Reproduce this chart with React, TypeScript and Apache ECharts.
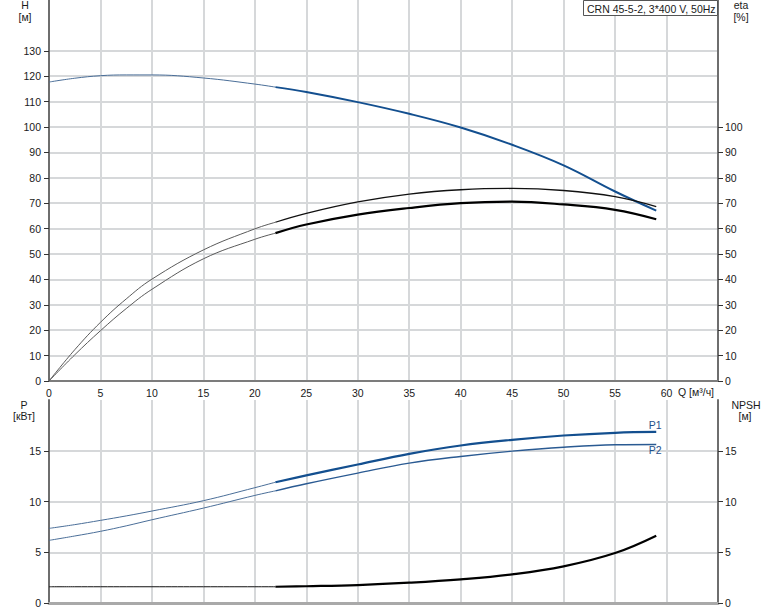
import React, { useEffect, useRef } from "react";
import * as echarts from "echarts";

// Flow rate Q [m³/h]
const Q = [0, 2.5, 5, 7.5, 10, 15, 20, 22, 25, 30, 35, 40, 45, 50, 55, 59];
// Head H [m]
const H = [117.7, 119.2, 120.2, 120.5, 120.5, 119.3, 116.9, 115.7, 113.8, 109.8, 105.2, 99.8, 93.0, 84.9, 74.6, 67.1];
// Efficiency (pump) [%]
const ETA_PUMP = [0, 12.3, 23.1, 32.3, 40.1, 51.6, 59.9, 62.5, 66.0, 70.5, 73.6, 75.3, 75.8, 75.0, 72.6, 68.7];
// Efficiency (pump + motor) [%]
const ETA_TOTAL = [0, 10.3, 19.8, 28.5, 36.1, 48.1, 55.8, 58.2, 61.6, 65.5, 68.1, 70.0, 70.6, 69.5, 67.4, 63.7];
// Power P1, P2 [kW]
const P1 = [7.35, 7.72, 8.14, 8.58, 9.06, 10.08, 11.36, 11.9, 12.57, 13.65, 14.7, 15.52, 16.08, 16.5, 16.77, 16.85];
const P2 = [6.17, 6.6, 7.06, 7.6, 8.2, 9.35, 10.6, 11.05, 11.75, 12.8, 13.78, 14.44, 14.96, 15.35, 15.59, 15.62];
// NPSH [m]
const NPSH = [1.6, 1.6, 1.6, 1.6, 1.6, 1.6, 1.6, 1.6, 1.65, 1.77, 2.0, 2.33, 2.82, 3.61, 4.92, 6.63];
// Start of the duty range (thick part of the curves)
const Q_SPLIT = 22;

// Tick labels
const Q_TICKS = [0, 5, 10, 15, 20, 25, 30, 35, 40, 45, 50, 55, 60];
const H_TICKS = [0, 10, 20, 30, 40, 50, 60, 70, 80, 90, 100, 110, 120, 130];
const ETA_TICKS = [0, 10, 20, 30, 40, 50, 60, 70, 80, 90, 100];
const P_TICKS = [0, 5, 10, 15];
const NPSH_TICKS = [0, 5, 10, 15];

const TITLE = "CRN 45-5-2, 3*400 V, 50Hz";

const FONT = "'Liberation Sans', Arial, sans-serif";
const TXT = "#1a1a1a";
const GRID_C = "#d6d8da";
const BLUE = "#134f8f";
const BLUE_THIN = "#4a6e98";

function pts(ys: number[]) {
  return Q.map((q, i) => [q, ys[i]]);
}
function thin(ys: number[]) {
  return pts(ys).filter((p) => p[0] <= Q_SPLIT);
}
function thick(ys: number[]) {
  return pts(ys).filter((p) => p[0] >= Q_SPLIT);
}

function lineSeries(name: string, data: any[], xi: number, yi: number, color: string, width: number, z = 3, extra: any = {}) {
  return {
    name,
    type: "line",
    xAxisIndex: xi,
    yAxisIndex: yi,
    data,
    smooth: 0.4,
    showSymbol: false,
    symbol: "none",
    lineStyle: { color, width },
    z,
    silent: true,
    ...extra,
  };
}

function endLabel(text: string, dy: number) {
  return {
    endLabel: {
      show: true,
      formatter: text,
      color: "#1f4f8a",
      fontSize: 10.5,
      fontFamily: FONT,
      distance: 0,
      align: "center",
      verticalAlign: "middle",
      offset: [-1, dy],
    },
  };
}

export default function App() {
  const ref = useRef<HTMLDivElement>(null);

  useEffect(() => {
    if (!ref.current) return;
    const chart = echarts.init(ref.current, null, { renderer: "svg" });

    const labelBase = { color: TXT, fontSize: 10.5, fontFamily: FONT };

    const xAxisCommon = {
      type: "value",
      min: 0,
      max: 65,
      interval: 5,
      axisTick: { show: false },
      splitLine: { show: true, lineStyle: { color: GRID_C, width: 2 } },
    };

    const textStyle = (text: string, align = "center") => ({
      text,
      fill: TXT,
      font: `10.5px ${FONT}`,
      align,
      verticalAlign: "middle",
    });

    const option: any = {
      animation: false,
      backgroundColor: "#ffffff",
      grid: [
        { left: 49, top: 0, width: 669, height: 381 },
        { left: 49, top: 400, width: 669, height: 203 },
      ],
      xAxis: [
        {
          ...xAxisCommon,
          gridIndex: 0,
          axisLine: { show: true, onZero: false, lineStyle: { color: "#7c7c7c", width: 2 } },
          axisLabel: { ...labelBase, customValues: Q_TICKS, margin: 6 },
        },
        {
          ...xAxisCommon,
          gridIndex: 1,
          axisLine: { show: true, onZero: false, lineStyle: { color: "#a9a9a9", width: 3 } },
          axisLabel: { show: false },
        },
      ],
      yAxis: [
        {
          type: "value",
          gridIndex: 0,
          position: "left",
          min: 0,
          max: 150,
          interval: 10,
          axisLine: { show: true, lineStyle: { color: "#6e6e6e", width: 2 } },
          axisTick: { show: true, customValues: H_TICKS, length: 5, lineStyle: { color: "#333", width: 1 } },
          axisLabel: { ...labelBase, customValues: H_TICKS, margin: 8 },
          splitLine: { show: true, lineStyle: { color: GRID_C, width: 2 } },
        },
        {
          type: "value",
          gridIndex: 0,
          position: "right",
          min: 0,
          max: 150,
          interval: 10,
          axisLine: { show: true, lineStyle: { color: "#6e6e6e", width: 2 } },
          axisTick: { show: true, customValues: ETA_TICKS, length: 5, lineStyle: { color: "#333", width: 1 } },
          axisLabel: { ...labelBase, customValues: ETA_TICKS, margin: 7 },
          splitLine: { show: false },
        },
        {
          type: "value",
          gridIndex: 1,
          position: "left",
          min: 0,
          max: 20,
          interval: 5,
          axisLine: { show: true, lineStyle: { color: "#6e6e6e", width: 2 } },
          axisTick: { show: true, customValues: P_TICKS, length: 5, lineStyle: { color: "#333", width: 1 } },
          axisLabel: { ...labelBase, customValues: P_TICKS, margin: 8 },
          splitLine: { show: true, lineStyle: { color: GRID_C, width: 2 } },
        },
        {
          type: "value",
          gridIndex: 1,
          position: "right",
          min: 0,
          max: 20,
          interval: 5,
          axisLine: { show: true, lineStyle: { color: "#6e6e6e", width: 2 } },
          axisTick: { show: true, customValues: NPSH_TICKS, length: 5, lineStyle: { color: "#333", width: 1 } },
          axisLabel: { ...labelBase, customValues: NPSH_TICKS, margin: 7 },
          splitLine: { show: false },
        },
      ],
      series: [
        // Top: H
        lineSeries("H thin", thin(H), 0, 0, BLUE_THIN, 1),
        lineSeries("H", thick(H), 0, 0, BLUE, 2, 4),
        // Top: eta
        lineSeries("eta pump thin", thin(ETA_PUMP), 0, 1, "#5a5a5a", 1),
        lineSeries("eta pump", thick(ETA_PUMP), 0, 1, "#111", 1.3, 4),
        lineSeries("eta total thin", thin(ETA_TOTAL), 0, 1, "#5a5a5a", 1),
        lineSeries("eta total", thick(ETA_TOTAL), 0, 1, "#000", 2.2, 4),
        // Bottom: P1, P2
        lineSeries("P1 thin", thin(P1), 1, 2, BLUE_THIN, 1),
        lineSeries("P1", thick(P1), 1, 2, BLUE, 2.2, 4, endLabel("P1", -7)),
        lineSeries("P2 thin", thin(P2), 1, 2, BLUE_THIN, 1),
        lineSeries("P2", thick(P2), 1, 2, "#2a5a92", 1.4, 4, endLabel("P2", 6)),
        // Bottom: NPSH
        lineSeries("NPSH thin", thin(NPSH), 1, 3, "#111", 1),
        lineSeries("NPSH", thick(NPSH), 1, 3, "#000", 2.2, 4),
      ],
      graphic: [
        { type: "text", x: 25, y: 5, style: textStyle("H") },
        { type: "text", x: 25, y: 17, style: textStyle("[м]") },
        { type: "text", x: 741, y: 5, style: textStyle("eta") },
        { type: "text", x: 741, y: 17, style: textStyle("[%]") },
        { type: "text", x: 24, y: 405, style: textStyle("P") },
        { type: "text", x: 24, y: 416, style: textStyle("[кВт]") },
        { type: "text", x: 746, y: 405, style: textStyle("NPSH") },
        { type: "text", x: 745, y: 416, style: textStyle("[м]") },
        { type: "text", x: 678, y: 392, style: textStyle("Q [м³/ч]", "left") },
        {
          type: "rect",
          z: 100,
          shape: { x: 583.5, y: 0.5, width: 134, height: 15 },
          style: { fill: "#ffffff", stroke: "#555555", lineWidth: 1 },
        },
        { type: "text", z: 101, x: 587, y: 8.5, style: textStyle(TITLE, "left") },
      ],
    };

    chart.setOption(option);
    return () => chart.dispose();
  }, []);

  return (
    <div
      ref={ref}
      style={{ position: "fixed", left: 0, top: 0, width: 774, height: 611, background: "#fff" }}
    />
  );
}
